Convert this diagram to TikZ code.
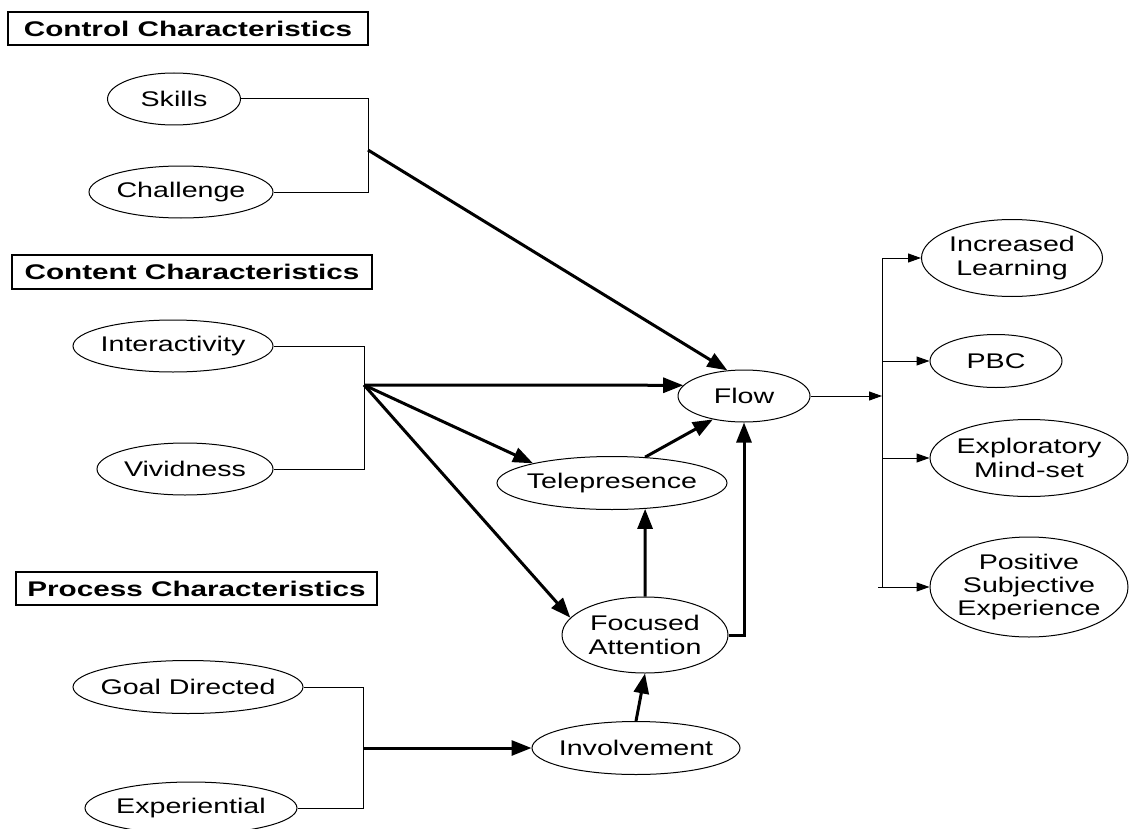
\documentclass[tikz,border=0pt]{standalone}
\usepackage{fontspec}
\setmainfont{Liberation Sans}[FakeStretch=1.35]
\newfontfamily\hdfont{Liberation Sans}[FakeStretch=1.4]
\usetikzlibrary{arrows.meta,calc,shapes.geometric}
\begin{document}
\begin{tikzpicture}[x=0.5pt,y=-0.5pt,
  el/.style={ellipse,draw,line width=0.5pt,inner xsep=-8pt,inner ysep=0pt,align=center,
    font=\fontsize{10.6}{11.7}\selectfont},
  hdr/.style={draw,line width=0.9pt,inner sep=0pt,font=\fontsize{10.6}{12}\hdfont\bfseries},
  thinline/.style={line width=0.5pt},
  thinarr/.style={line width=0.5pt,-{Triangle[length=6.5pt,width=4.5pt]}},
  thickarr/.style={line width=1.5pt,-{Triangle[length=10pt,width=7.5pt]}}]
\useasboundingbox (0,0) rectangle (1129,829);

% headers
\node[hdr,minimum width=180pt,minimum height=16.5pt] (hcontrol) at (188,28.5) {Control Characteristics};
\node[hdr,minimum width=180pt,minimum height=17pt] (hcontent) at (192,272) {Content Characteristics};
\node[hdr,minimum width=180.5pt,minimum height=16.5pt] (hprocess) at (196.5,588.5) {Process Characteristics};

% ellipses
\node[el,minimum width=66.5pt,minimum height=26pt] (skills) at (174,99) {Skills};
\node[el,minimum width=92pt,minimum height=26pt] (chal) at (181,192) {Challenge};
\node[el,minimum width=100pt,minimum height=26pt] (inter) at (173,346) {Interactivity};
\node[el,minimum width=88pt,minimum height=26pt] (vivid) at (185,469) {Vividness};
\node[el,minimum width=115pt,minimum height=26.5pt] (goal) at (188,687) {Goal Directed};
\node[el,minimum width=106pt,minimum height=26pt] (exper) at (191,808) {Experiential};
\node[el,minimum width=104pt,minimum height=26.5pt] (invol) at (636,748) {Involvement};
\node[el,minimum width=66pt,minimum height=26pt] (flow) at (744,396) {Flow};
\node[el,minimum width=115pt,minimum height=26.5pt] (tele) at (612,483) {Telepresence};
\node[el,minimum width=83pt,minimum height=38pt] (focus) at (645,635) {Focused\\Attention};
\node[el,minimum width=90.5pt,minimum height=38.5pt] (learn) at (1012,258) {Increased\\Learning};
\node[el,minimum width=66pt,minimum height=26.5pt] (pbc) at (996,361) {PBC};
\node[el,minimum width=99pt,minimum height=38.5pt] (explo) at (1029,458) {Exploratory\\Mind-set};
\node[el,minimum width=99pt,minimum height=50pt] (posit) at (1029,587) {Positive\\Subjective\\Experience};

% junctions
\coordinate (cj) at (368,150);
\coordinate (ij) at (364,385);
\coordinate (pj) at (363,748);
\coordinate (oj) at (882,396);

% brackets
\draw[thinline] (skills.east) -- (skills.east -| cj) -- (chal.east -| cj) -- (chal.east);
\draw[thinline] (inter.east) -- (inter.east -| ij) -- (vivid.east -| ij) -- (vivid.east);
\draw[thinline] (goal.east) -- (goal.east -| pj) -- (exper.east -| pj) -- (exper.east);

% thick arrows
\draw[thickarr] (cj) -- (flow.123);
\draw[thickarr] (ij) -- (flow.170);
\draw[thickarr] (ij) -- (tele.166);
\draw[thickarr] (ij) -- (focus.167);
\draw[thickarr] (tele.38) -- (flow.217);
\draw[thickarr] (focus.north) -- (tele.322);
\draw[thickarr] (focus.east) -| (flow.south);
\draw[thickarr] (invol.north) -- (focus.south);
\draw[thickarr] (pj) -- (invol.west);

% outcomes
\draw[thinarr] (flow.east) -- (oj);
\draw[thinline] (learn.west -| oj) -- (posit.west -| oj);
\draw[thinarr] (learn.west -| oj) -- (learn.west);
\draw[thinarr] (pbc.west -| oj) -- (pbc.west);
\draw[thinarr] (explo.west -| oj) -- (explo.west);
\draw[thinarr] ($(posit.west -| oj)+(-4,0)$) -- (posit.west);
\end{tikzpicture}
\end{document}
